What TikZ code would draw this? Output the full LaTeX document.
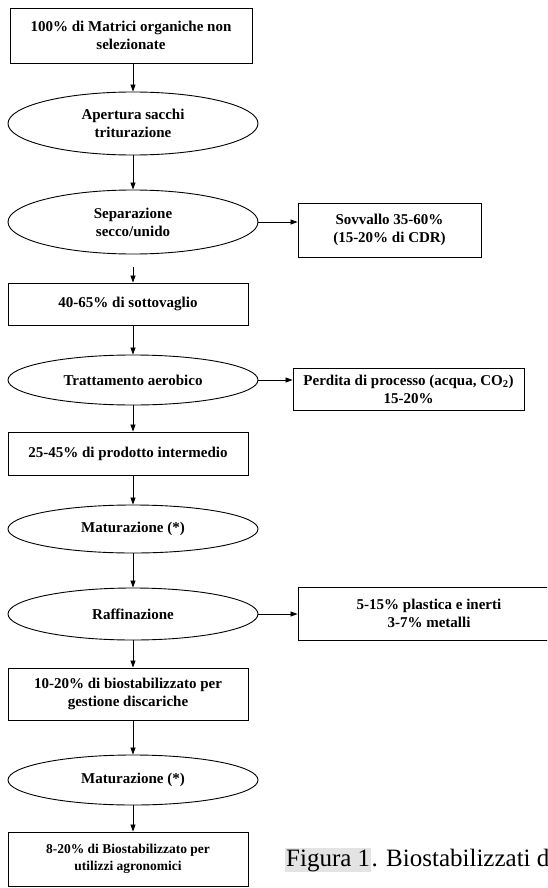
\documentclass[tikz,border=0pt]{standalone}
\usepackage{fontspec}
\setmainfont{Liberation Serif}
\usetikzlibrary{shapes.geometric,arrows.meta}
\begin{document}
\begin{tikzpicture}[x=1pt,y=-1pt,
  lbl/.style={font=\bfseries\fontsize{15}{18}\selectfont},
  boxnode/.style={draw, line width=0.9pt, rectangle, inner sep=0pt, align=center, lbl},
  ellnode/.style={draw, line width=0.9pt, ellipse, inner sep=0pt, align=center, lbl, minimum width=250pt},
  arr/.style={-{Triangle[length=7pt,width=5pt]}, line width=0.8pt}]
\useasboundingbox (0,0) rectangle (547,888);
\clip (0,0) rectangle (547,888);

\node[boxnode, minimum width=242pt, minimum height=55pt] (b1) at (131,35.5) {100\% di Matrici organiche non\\selezionate};
\node[ellnode, minimum height=63pt] (e1) at (133,123.5) {Apertura sacchi\\triturazione};
\node[ellnode, minimum height=64pt] (e2) at (133,222) {Separazione\\secco/unido};
\node[boxnode, minimum width=183pt, minimum height=54pt] (s1) at (389.5,230) {Sovvallo 35-60\%\\(15-20\% di CDR)};
\node[boxnode, minimum width=240pt, minimum height=42pt] (b3) at (128,304) {40-65\% di sottovaglio};
\node[ellnode, minimum height=50pt] (e4) at (133,380) {Trattamento aerobico};
\node[boxnode, minimum width=231pt, minimum height=42pt] (s2) at (408.5,389) {Perdita di processo (acqua, CO\textsubscript{2})\\15-20\%};
\node[boxnode, minimum width=240pt, minimum height=43pt] (b5) at (128,453.5) {25-45\% di prodotto intermedio};
\node[ellnode, minimum height=48pt] (e6) at (133,529) {Maturazione (*)};
\node[ellnode, minimum height=52pt] (e7) at (133,614) {Raffinazione};
\node[boxnode, minimum width=262pt, minimum height=53pt] (s3) at (429,613.5) {5-15\% plastica e inerti\\3-7\% metalli};
\node[boxnode, minimum width=240pt, minimum height=52pt] (b8) at (128,694) {10-20\% di biostabilizzato per\\gestione discariche};
\node[ellnode, minimum height=50pt] (e9) at (133,780) {Maturazione (*)};
\node[boxnode, minimum width=240pt, minimum height=54pt, font=\bfseries\fontsize{13.5}{17}\selectfont] (b10) at (128,859) {8-20\% di Biostabilizzato per\\utilizzi agronomici};

\draw[arr] (e1.north |- b1.south) -- (e1.north);
\draw[arr] (e1.south) -- (e2.north);
\draw[arr] (e2.east) -- (e2.east -| s1.west);
\draw[arr, shorten <=13pt] (e2.south) -- (e2.south |- b3.north);
\draw[arr] (e4.north |- b3.south) -- (e4.north);
\draw[arr] (e4.east) -- (e4.east -| s2.west);
\draw[arr] (e4.south) -- (e4.south |- b5.north);
\draw[arr] (e6.north |- b5.south) -- (e6.north);
\draw[arr] (e6.south) -- (e7.north);
\draw[arr] (e7.east) -- (e7.east -| s3.west);
\draw[arr] (e7.south) -- (e7.south |- b8.north);
\draw[arr] (e9.north |- b8.south) -- (e9.north);
\draw[arr] (e9.south) -- (e9.south |- b10.north);

\node[fill=gray!22, inner sep=1pt, anchor=base west, font=\fontsize{25}{30}\selectfont] (fig) at (285,866) {Figura 1};
\node[inner sep=0pt, anchor=base west, font=\fontsize{25}{30}\selectfont] (cap) at (fig.base east) {. Biostabilizzati d};
\end{tikzpicture}
\end{document}
